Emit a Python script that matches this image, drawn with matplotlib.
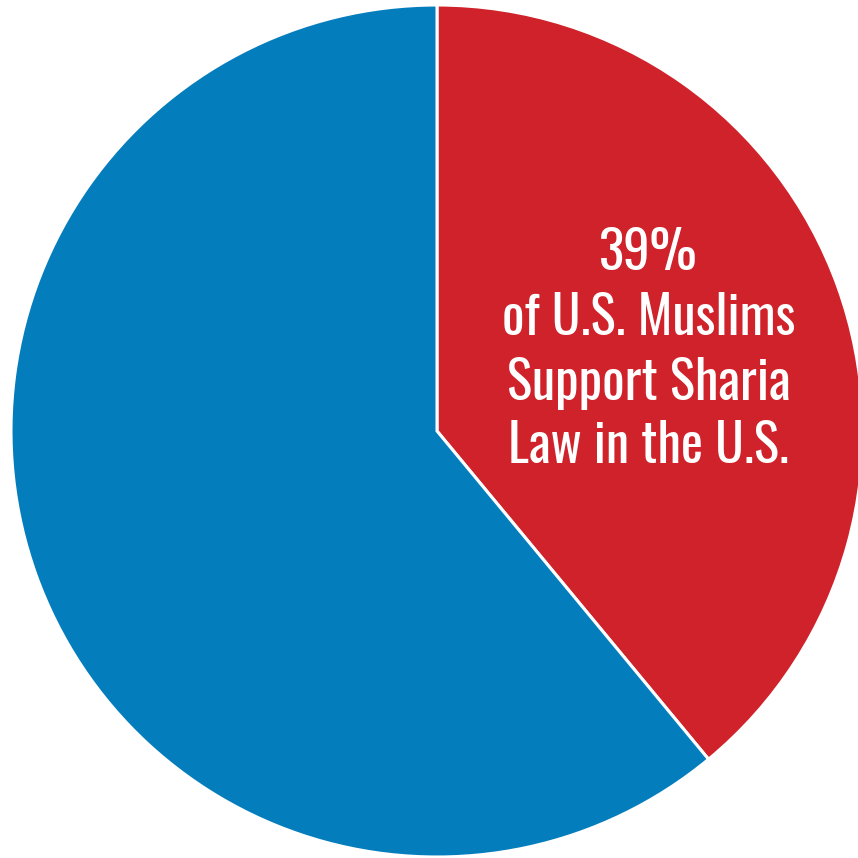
import matplotlib
matplotlib.use("Agg")
import matplotlib.pyplot as plt

labels = ["Support Sharia Law in the U.S.", "Other"]
values = [39, 61]
colors = ["#D0222A", "#047DBD"]
label_lines = ["39%", "of U.S. Muslims", "Support Sharia", "Law in the U.S."]

fig = plt.figure(figsize=(8.58, 8.58), dpi=100)
ax = fig.add_axes([0, 0, 1, 1])

ax.pie(values, colors=colors, startangle=90, counterclock=False,
       center=(437, 427), radius=426, frame=True,
       wedgeprops=dict(edgecolor="white", linewidth=2.2))
ax.set_xlim(0, 858)
ax.set_ylim(0, 858)
ax.set_aspect("auto")
ax.axis("off")

baselines = [270, 335, 400, 463]
for line, b in zip(label_lines, baselines):
    ax.text(648.5, 858 - b, line, color="white", fontsize=38,
            family=["Oswald", "DejaVu Sans"], fontweight="light",
            ha="center", va="baseline")

fig.savefig("out.png", dpi=100)
